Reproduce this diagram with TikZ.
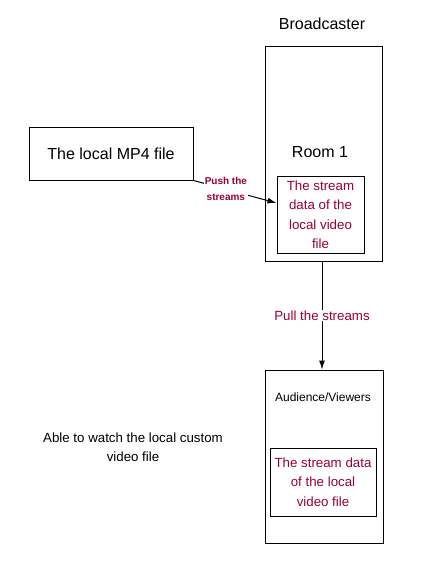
\documentclass[tikz,border=0pt]{standalone}
\usepackage{fontspec}
\setmainfont{Liberation Sans}
\usetikzlibrary{shapes,arrows.meta}
\definecolor{streamred}{HTML}{990033}
\tikzstyle{frame}=[rectangle, draw, line width=1pt, inner sep=0pt]
\tikzstyle{streamdata}=[frame, text=streamred, align=center, font=\fontsize{13.3}{19.5}\selectfont]
\tikzstyle{streamlabel}=[fill=white, text=streamred, align=center, inner sep=1pt]
\tikzstyle{flow}=[draw, line width=1pt, -{Latex[length=9pt,width=6pt]}]
\newcommand{\frameat}[5]{
	\node[frame, minimum width=#3, minimum height=#4] (#1) at (#2) {#5};}

\begin{document}
\begin{tikzpicture}[x=1pt, y=-1pt]
	\useasboundingbox (0,0) rectangle (439,571);
	
	% broadcaster side
	\node (broadcaster) at (322,24) {\fontsize{16}{19}\selectfont Broadcaster};
	\frameat{room}{323.5,153.5}{117pt}{215pt}{}
	\node (roomname) at (320,152) {\fontsize{16}{19}\selectfont Room 1};
	\node[streamdata, minimum width=87pt, minimum height=77pt] (roomdata) at (320.5,214.5)
		{The stream\\data of the\\local video\\file};
	
	% local file
	\frameat{mpfile}{111,153.5}{164pt}{53pt}{\fontsize{16}{19}\selectfont The local MP4 file}
	
	% audience side
	\frameat{audience}{324,456.5}{118pt}{173pt}{}
	\node (viewers) at (323,397) {\fontsize{12}{14}\selectfont Audience/Viewers};
	\node[streamdata, minimum width=106pt, minimum height=68pt] (viewerdata) at (323,482)
		{The stream data\\of the local\\video file};
	\node[align=center, font=\fontsize{13.3}{19.5}\selectfont] (watch) at (133,447)
		{Able to watch the local custom\\video file};
	
	\path[flow] (mpfile.south east) -- node[streamlabel, pos=0.39, font=\fontsize{10}{16}\bfseries] {Push the\\streams} ([yshift=11.5pt]roomdata.west);
	\path[flow] (room.south -| 322,0) -- node[streamlabel, font=\fontsize{13.3}{16}\selectfont] {Pull the streams} (audience.north -| 322,0);
\end{tikzpicture}
\end{document}
